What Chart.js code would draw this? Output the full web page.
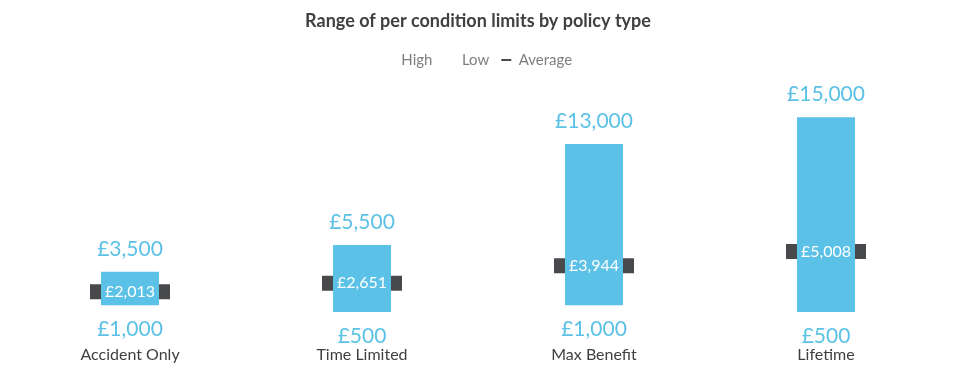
<!DOCTYPE html>
<html>
<head>
<meta charset="utf-8">
<script src="https://cdn.jsdelivr.net/npm/chart.js@4/dist/chart.umd.min.js"></script>
<style>
  html, body { margin: 0; padding: 0; background: #fff; }
  #wrap { width: 956px; height: 372px; }
</style>
</head>
<body>
<div id="wrap"><canvas id="limitsChart"></canvas></div>
<script>
// policy types and per condition limits (£)
const policyTypes = ["Accident Only", "Time Limited", "Max Benefit", "Lifetime"];
const highLimits = [3500, 5500, 13000, 15000];
const lowLimits = [1000, 500, 1000, 500];
const avgLimits = [2013, 2651, 3944, 5008];

const blue = "#5bc1e6";
const darkMark = "#47494d";
const fontFamily = "Lato, 'Open Sans', sans-serif";

const fmt = v => "£" + v.toLocaleString("en-GB");

// draws the High / Low / Average value labels
const valueLabels = {
  id: "valueLabels",
  afterDatasetsDraw(chart) {
    const ctx = chart.ctx;
    const bars = chart.getDatasetMeta(3).data;
    const avgPts = chart.getDatasetMeta(2).data;
    ctx.save();
    ctx.textAlign = "center";
    ctx.textBaseline = "middle";
    bars.forEach((bar, i) => {
      const top = Math.min(bar.y, bar.base);
      const bottom = Math.max(bar.y, bar.base);
      ctx.font = "21px " + fontFamily;
      ctx.fillStyle = blue;
      ctx.fillText(fmt(highLimits[i]), bar.x, top - 23);
      ctx.fillText(fmt(lowLimits[i]), bar.x, bottom + 24);
      ctx.font = "16px " + fontFamily;
      ctx.fillStyle = "#ffffff";
      ctx.fillText(fmt(avgLimits[i]), avgPts[i].x, avgPts[i].y);
    });
    ctx.restore();
  }
};

const chart = new Chart(document.getElementById("limitsChart"), {
  data: {
    labels: policyTypes,
    datasets: [
      { type: "line", label: "High", data: highLimits, showLine: false, pointRadius: 0, order: 3 },
      { type: "line", label: "Low", data: lowLimits, showLine: false, pointRadius: 0, order: 3 },
      {
        type: "line", label: "Average", data: avgLimits, showLine: false,
        pointStyle: "line", pointRadius: 40, pointBorderWidth: 15,
        pointBorderColor: darkMark, pointHoverRadius: 40, order: 2
      },
      {
        type: "bar", label: "Range", data: lowLimits.map((l, i) => [l, highLimits[i]]),
        backgroundColor: blue, borderSkipped: false,
        categoryPercentage: 1, barPercentage: 0.25, order: 1
      }
    ]
  },
  options: {
    responsive: true,
    maintainAspectRatio: false,
    animation: false,
    layout: { autoPadding: false, padding: { left: 14, right: 14, top: 0, bottom: -10 } },
    plugins: {
      tooltip: { enabled: false },
      title: {
        display: true,
        text: "Range of per condition limits by policy type",
        color: "#404040",
        font: { family: fontFamily, size: 18, weight: "bold" },
        padding: { top: 10, bottom: 9 }
      },
      legend: {
        position: "top",
        labels: {
          color: "#7f7f7f",
          font: { family: fontFamily, size: 15 },
          boxWidth: 10,
          boxHeight: 2,
          padding: 12,
          generateLabels: () => [
            { text: "High", fillStyle: "rgba(0,0,0,0)", strokeStyle: "rgba(0,0,0,0)", lineWidth: 0, fontColor: "#7f7f7f" },
            { text: "Low", fillStyle: "rgba(0,0,0,0)", strokeStyle: "rgba(0,0,0,0)", lineWidth: 0, fontColor: "#7f7f7f" },
            { text: "Average", fillStyle: darkMark, strokeStyle: darkMark, lineWidth: 0, fontColor: "#7f7f7f" }
          ]
        }
      }
    },
    scales: {
      x: {
        grid: { display: false },
        border: { display: false },
        ticks: { color: "#404040", font: { family: fontFamily, size: 16 }, padding: 18 }
      },
      y: {
        display: false,
        min: 0,
        max: 17950
      }
    }
  },
  plugins: [valueLabels]
});
</script>
</body>
</html>
